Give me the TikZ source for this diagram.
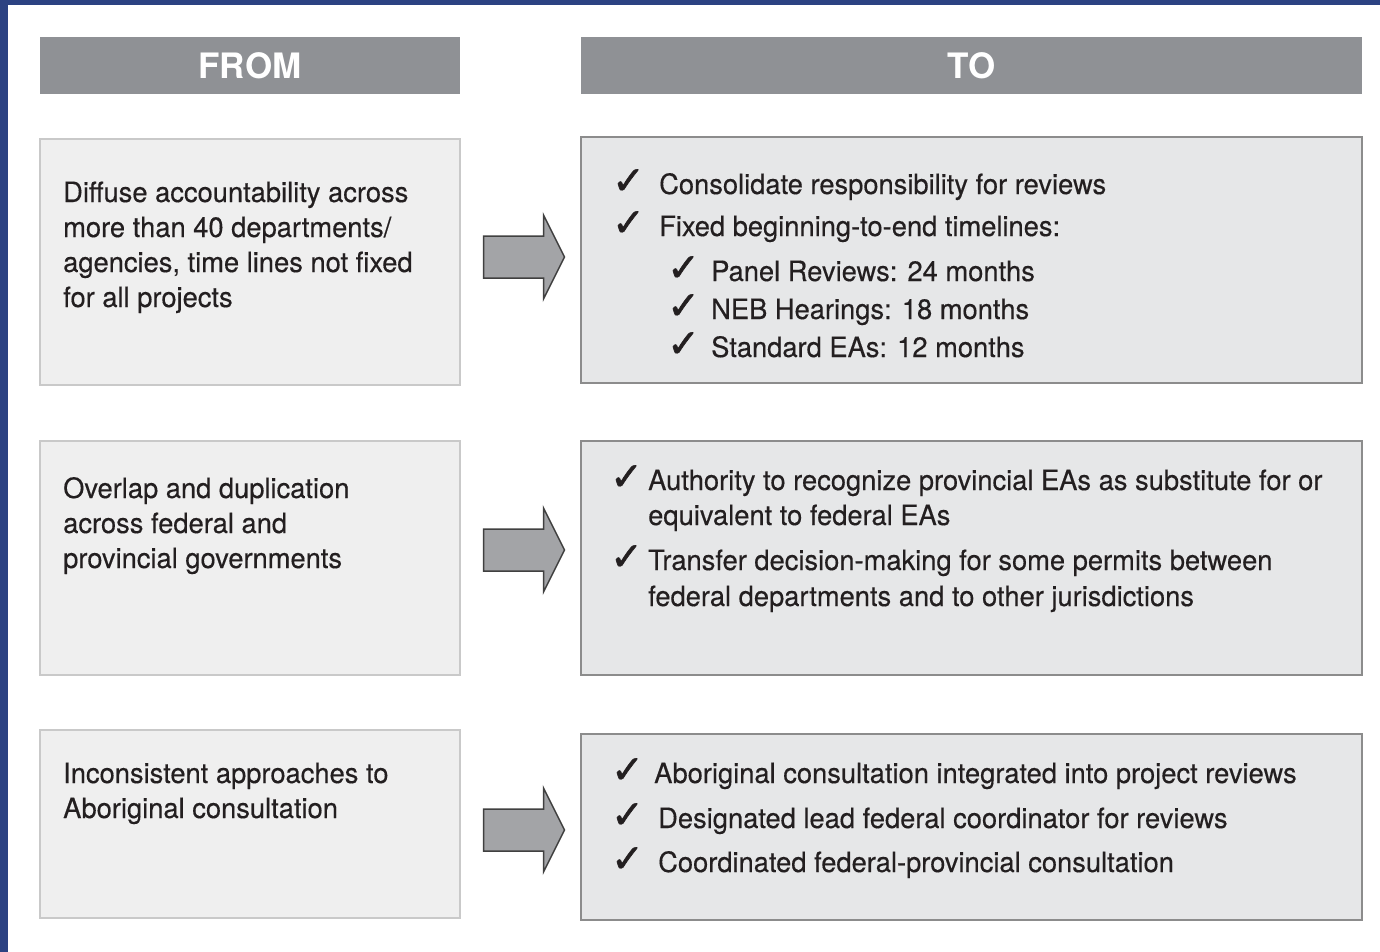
\documentclass[tikz,border=0pt]{standalone}
\usepackage{fontspec}
\setmainfont{TeX Gyre Heros}[FakeStretch=0.975,FakeBold=0.35]
\newfontfamily\headfont{TeX Gyre Heros}
\newfontfamily\tickfont{DejaVu Sans}[FakeBold=1.5]
\usetikzlibrary{positioning}
\definecolor{bandblue}{HTML}{2C4282}
\definecolor{bandlight}{HTML}{4C6CB2}
\definecolor{headgray}{HTML}{8F9195}
\definecolor{fromfill}{HTML}{EFEFEF}
\definecolor{fromline}{HTML}{C9C9C9}
\definecolor{tofill}{HTML}{E6E7E8}
\definecolor{toline}{HTML}{8C8C8C}
\definecolor{arrowfill}{HTML}{A3A4A7}
\definecolor{arrowline}{HTML}{404040}
\definecolor{ink}{HTML}{231F20}
\begin{document}
\begin{tikzpicture}[x=1pt,y=-1pt]
    \tikzstyle{head}=[fill=headgray, text=white, inner sep=0pt, outer sep=0pt,
        minimum height=57pt, font=\headfont\bfseries\fontsize{35}{35}\selectfont]
    \tikzstyle{frombox}=[draw=fromline, line width=2pt, fill=fromfill,
        minimum width=420pt, outer sep=0pt]
    \tikzstyle{tobox}=[draw=toline, line width=2pt, fill=tofill,
        minimum width=781pt, outer sep=0pt]
    \tikzstyle{txt}=[anchor=base west, inner sep=0pt, text=ink,
        font=\fontsize{28}{35}\selectfont]
    \tikzstyle{chk}=[anchor=base west, inner sep=0pt, text=ink,
        font=\tickfont\fontsize{39}{39}\selectfont]
    \tikzstyle{bigarrow}=[draw=arrowline, line width=1.5pt, fill=arrowfill]

    % page and blue frame
    \useasboundingbox (0,0) rectangle (1380,952);
    \fill[white] (0,0) rectangle (1380,952);
    \shade[left color=bandblue, middle color=bandlight, right color=bandblue]
        (0,0) rectangle (1380,5);
    \fill[bandblue] (0,0) rectangle (8,952);

    % headers
    \node[head, minimum width=420pt] (fromhead) at (250,65.5) {FROM};
    \node[head, minimum width=781pt] (tohead) at (971.5,65.5) {TO};

    % boxes
    \node[frombox, minimum height=246pt, below=45pt of fromhead] (from1) {};
    \node[frombox, minimum height=234pt, below=56pt of from1] (from2) {};
    \node[frombox, minimum height=188pt, below=55pt of from2] (from3) {};
    \node[tobox, minimum height=246pt, below=43pt of tohead] (to1) {};
    \node[tobox, minimum height=234pt, below=58pt of to1] (to2) {};
    \node[tobox, minimum height=186pt, below=59pt of to2] (to3) {};

    % block arrows
    \foreach \i/\y in {1/257,2/550,3/830} {
        \coordinate (arr\i) at (523.5,\y);
        \draw[bigarrow] (arr\i) ++(-40,-21) -- ++(60,0) -- ++(0,-21) -- ++(21,42)
            -- ++(-21,42) -- ++(0,-21) -- ++(-60,0) -- cycle;
    }

    % left texts
    \foreach \t [count=\i] in {Diffuse accountability across, more than 40 departments/,
            {agencies, time lines not fixed}, for all projects}
        \node[txt] (f1\i) at (63,167+35*\i) {\t};
    \foreach \t [count=\i] in {Overlap and duplication, across federal and,
            provincial governments}
        \node[txt] (f2\i) at (63,463+35*\i) {\t};
    \foreach \t [count=\i] in {Inconsistent approaches to, Aboriginal consultation}
        \node[txt] (f3\i) at (63,748+35*\i) {\t};

    % check marks
    \foreach \x/\y [count=\i] in {612/194,612/236,667/281,667/319,667/357,
            610/490,610/570,611/783,611/828,611/872}
        \node[chk] (c\i) at (\x,\y) {✓};

    % right texts
    \foreach \x/\y/\t [count=\i] in {659/194/Consolidate responsibility for reviews,
            659/236/Fixed beginning-to-end timelines:,
            711/281/Panel Reviews: 24 months,
            711/319/NEB Hearings: 18 months,
            711/357/Standard EAs: 12 months,
            648/490/Authority to recognize provincial EAs as substitute for or,
            648/525/equivalent to federal EAs,
            648/570/Transfer decision-making for some permits between,
            648/606/federal departments and to other jurisdictions,
            654/783/Aboriginal consultation integrated into project reviews,
            658/828/Designated lead federal coordinator for reviews,
            658/872/Coordinated federal-provincial consultation}
        \node[txt] (r\i) at (\x,\y) {\t};
\end{tikzpicture}
\end{document}
